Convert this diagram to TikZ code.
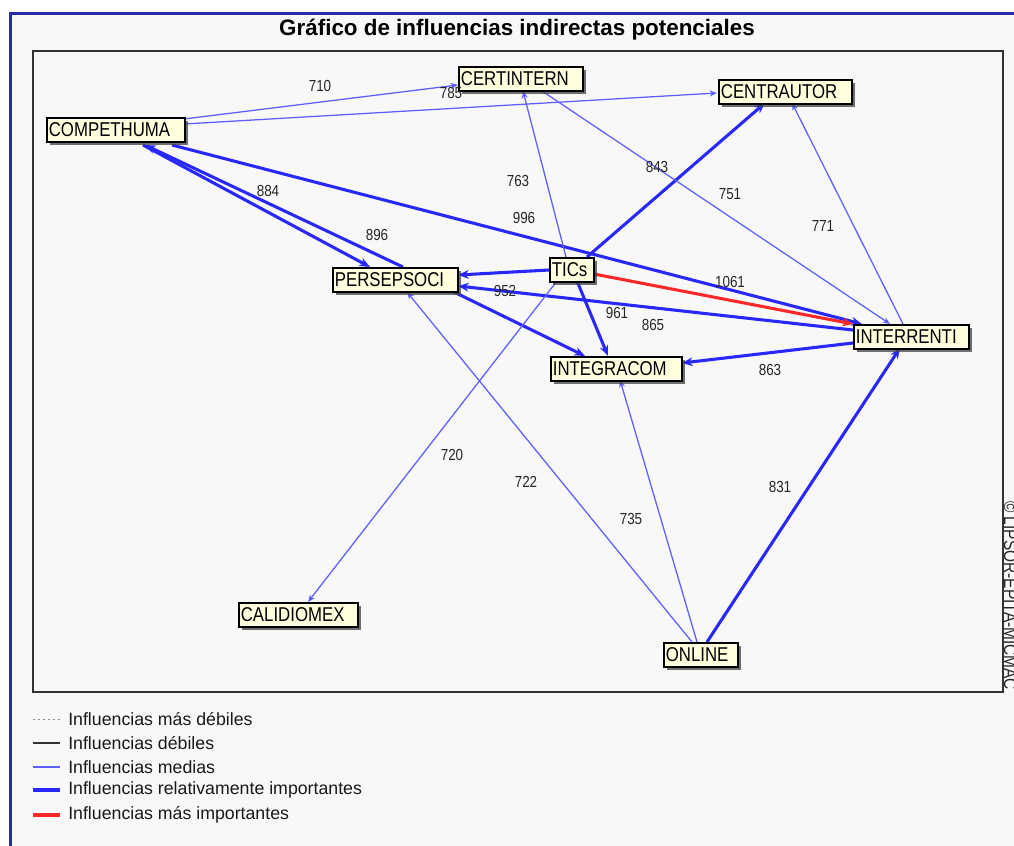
\documentclass[tikz,border=0pt]{standalone}
\usepackage{fontspec}
\setmainfont{Liberation Sans}
\newfontfamily\condfont[FakeStretch=0.84]{Liberation Sans}
\usetikzlibrary{arrows.meta,shadows}

\definecolor{framebl}{RGB}{40,40,170}
\definecolor{panel}{RGB}{248,248,248}
\definecolor{boxfill}{RGB}{255,255,222}
\definecolor{midblue}{RGB}{95,95,255}
\definecolor{strongblue}{RGB}{40,40,250}
\definecolor{topred}{RGB}{250,40,40}

\pgfdeclarelayer{back}
\pgfdeclarelayer{edges}
\pgfsetlayers{back,edges,main}

\tikzset{
  varbox/.style={draw=black, line width=1.3pt, fill=boxfill, inner xsep=1.5pt, inner ysep=0pt,
    anchor=north west, minimum height=18pt, align=left, text width=#1,
    font=\condfont\fontsize{15}{16}\selectfont,
    drop shadow={shadow xshift=2.4pt, shadow yshift=-2.4pt, fill=black!75, opacity=0.75}},
  med/.style={draw=midblue, line width=0.95pt, -{Stealth[length=5.5pt,width=4.5pt]}},
  imp/.style={draw=strongblue, line width=2.3pt, -{Stealth[length=8pt,width=6.5pt]}},
  maxinf/.style={draw=topred, line width=2.3pt, -{Stealth[length=8pt,width=6.5pt]}},
  val/.style={font=\condfont\fontsize{12}{13}\selectfont, text=black!85, inner sep=0pt},
  legtext/.style={font=\fontsize{13.3}{15}\selectfont, text=black!90, anchor=west, inner sep=0pt},
}

\begin{document}
\begin{tikzpicture}[x=0.75pt, y=-0.75pt]
\useasboundingbox (0,0) rectangle (1014,846);

% window background and border
\begin{pgfonlayer}{back}
  \fill[white] (0,0) rectangle (1014,846);
  \fill[panel] (10,13) rectangle (1014,846);
  \draw[framebl, line width=2.25pt] (10.5,846) -- (10.5,13) -- (1014,13);
  \draw[black!80, line width=1.1pt] (33,51) rectangle (1003,692);
\end{pgfonlayer}

\node[font=\bfseries\fontsize{16.8}{20}\selectfont] (title) at (517,30) {Gráfico de influencias indirectas potenciales};

% variables
\node[varbox=100.5pt] (comp)   at (46,117)  {COMPETHUMA};
\node[varbox=90pt]    (certi)  at (458,66)  {CERTINTERN};
\node[varbox=96.75pt] (centr)  at (718,79)  {CENTRAUTOR};
\node[varbox=90.75pt] (persep) at (332,267) {PERSEPSOCI};
\node[varbox=30pt]    (tics)   at (549,257) {TICs};
\node[varbox=95.25pt] (integ)  at (550,356) {INTEGRACOM};
\node[varbox=83.25pt] (interr) at (853,324) {INTERRENTI};
\node[varbox=86.25pt] (calid)  at (238,602) {CALIDIOMEX};
\node[varbox=52.5pt]  (online) at (663,642) {ONLINE};

% influences
\begin{pgfonlayer}{edges}
  \draw[med] ([shift={(138,2)}]comp.north west) -- ([shift={(0,19)}]certi.north west);
  \draw[med] ([shift={(138,7)}]comp.north west) -- ([shift={(-1,14)}]centr.north west);
  \draw[imp] ([shift={(97,28)}]comp.north west) -- ([shift={(38,0)}]persep.north west);
  \draw[imp] ([shift={(71,0)}]persep.north west) -- ([shift={(99,28)}]comp.north west);
  \draw[imp] ([shift={(126,28)}]comp.north west) -- ([shift={(9,0)}]interr.north west);
  \draw[med] ([shift={(17,0)}]tics.north west) -- ([shift={(65,25)}]certi.north west);
  \draw[imp] ([shift={(38,0)}]tics.north west) -- ([shift={(47,24)}]centr.north west);
  \draw[med] ([shift={(84,25)}]certi.north west) -- ([shift={(37,0)}]interr.north west);
  \draw[med] ([shift={(50,0)}]interr.north west) -- ([shift={(74,24)}]centr.north west);
  \draw[imp] ([shift={(0,13)}]tics.north west) -- ([shift={(126,8)}]persep.north west);
  \draw[imp] ([shift={(0,6)}]interr.north west) -- ([shift={(126,19)}]persep.north west);
  \draw[imp] ([shift={(122,25)}]persep.north west) -- ([shift={(35,0)}]integ.north west);
  \draw[imp] ([shift={(28,24)}]tics.north west) -- ([shift={(58,0)}]integ.north west);
  \draw[imp] ([shift={(0,19)}]interr.north west) -- ([shift={(132,7)}]integ.north west);
  \draw[med] ([shift={(8,24)}]tics.north west) -- ([shift={(70,0)}]calid.north west);
  \draw[med] ([shift={(29,0)}]online.north west) -- ([shift={(75,25)}]persep.north west);
  \draw[med] ([shift={(34,0)}]online.north west) -- ([shift={(70,24)}]integ.north west);
  \draw[imp] ([shift={(44,0)}]online.north west) -- ([shift={(47,24)}]interr.north west);
  \draw[maxinf] ([shift={(45,17)}]tics.north west) -- ([shift={(0,0)}]interr.north west);
\end{pgfonlayer}

% influence values
\node[val] (v710)  at (320,86)  {710};
\node[val] (v785)  at (451,93)  {785};
\node[val] (v884)  at (268,191) {884};
\node[val] (v896)  at (377,235) {896};
\node[val] (v996)  at (524,218) {996};
\node[val] (v763)  at (518,181) {763};
\node[val] (v843)  at (657,167) {843};
\node[val] (v751)  at (730,194) {751};
\node[val] (v771)  at (823,226) {771};
\node[val] (v1061) at (730,282) {1061};
\node[val] (v952)  at (505,291) {952};
\node[val] (v961)  at (617,313) {961};
\node[val] (v865)  at (653,325) {865};
\node[val] (v863)  at (770,370) {863};
\node[val] (v720)  at (452,455) {720};
\node[val] (v722)  at (526,482) {722};
\node[val] (v735)  at (631,519) {735};
\node[val] (v831)  at (780,487) {831};

% copyright, running down the right edge
\node[font=\condfont\fontsize{13.8}{15}\selectfont, text=black!85, rotate=-90, anchor=base west, inner sep=0pt] (copy) at (1004,501) {© LIPSOR-EPITA-MICMAC};

% legend
\draw[black!45, line width=0.75pt, dash pattern=on 1.5pt off 2.25pt] (33,719) -- (60,719);
\draw[black!80, line width=0.9pt] (33,743) -- (60,743);
\draw[midblue, line width=0.9pt] (33,767) -- (60,767);
\draw[strongblue, line width=2.3pt] (33,790) -- (60,790);
\draw[topred, line width=2.3pt] (33,815) -- (60,815);
\node[legtext] (l1) at (68,719) {Influencias más débiles};
\node[legtext] (l2) at (68,743) {Influencias débiles};
\node[legtext] (l3) at (68,767) {Influencias medias};
\node[legtext] (l4) at (68,790) {Influencias relativamente importantes};
\node[legtext] (l5) at (68,815) {Influencias más importantes};
\end{tikzpicture}
\end{document}
